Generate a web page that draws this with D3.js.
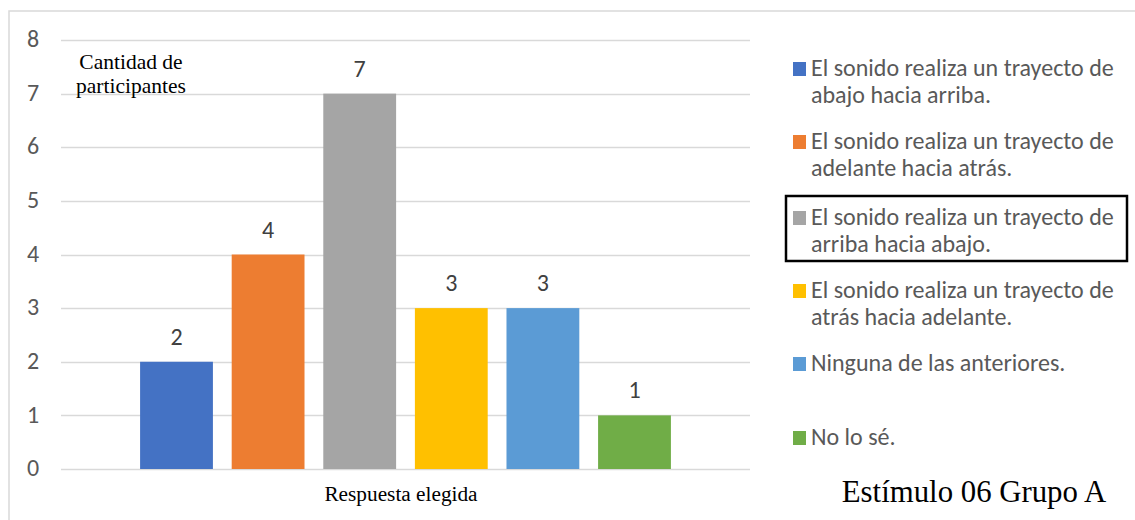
<!DOCTYPE html>
<html>
<head>
<meta charset="utf-8">
<script src="https://cdn.jsdelivr.net/npm/d3@7"></script>
<style>
  html, body { margin: 0; padding: 0; background: #fff; }
  svg { display: block; }
</style>
</head>
<body>
<svg id="chart" width="1135" height="520"></svg>
<script>
// Responses chosen by participants, stimulus 06, group A
const category = "Respuesta elegida";
const seriesNames = [
  "El sonido realiza un trayecto de abajo hacia arriba.",
  "El sonido realiza un trayecto de adelante hacia atrás.",
  "El sonido realiza un trayecto de arriba hacia abajo.",
  "El sonido realiza un trayecto de atrás hacia adelante.",
  "Ninguna de las anteriores.",
  "No lo sé."
];
const legendLines = [
  ["El sonido realiza un trayecto de", "abajo hacia arriba."],
  ["El sonido realiza un trayecto de", "adelante hacia atrás."],
  ["El sonido realiza un trayecto de", "arriba hacia abajo."],
  ["El sonido realiza un trayecto de", "atrás hacia adelante."],
  ["Ninguna de las anteriores."],
  ["No lo sé."]
];
const values = [2, 4, 7, 3, 3, 1];
const colors = ["#4472C4", "#ED7D31", "#A5A5A5", "#FFC000", "#5B9BD5", "#70AD47"];
const yTicks = [0, 1, 2, 3, 4, 5, 6, 7, 8];
const highlighted = 2; // legend entry drawn with a box around it

const svg = d3.select("#chart");
const sans = "Calibri, Carlito, 'Open Sans', sans-serif";
const serif = "'Liberation Serif', 'Times New Roman', serif";

// outer frame
svg.append("rect")
  .attr("x", 9).attr("y", 11).attr("width", 1140).attr("height", 520)
  .attr("fill", "none").attr("stroke", "#d9d9d9").attr("stroke-width", 1.5);

const plot = { left: 61, right: 750, top: 40, bottom: 469 };

const y = d3.scaleLinear().domain([0, 8]).range([plot.bottom, plot.top]);

const x0 = d3.scaleBand().domain([category]).range([plot.left, plot.right]).paddingOuter(0.149);
const x1 = d3.scaleBand().domain(seriesNames)
  .range([x0(category), x0(category) + x0.bandwidth()])
  .paddingInner(0.205).paddingOuter(0);

// gridlines
svg.append("g")
  .selectAll("line")
  .data(yTicks)
  .join("line")
  .attr("x1", plot.left).attr("x2", plot.right)
  .attr("y1", d => Math.round(y(d)) + 0.5).attr("y2", d => Math.round(y(d)) + 0.5)
  .attr("stroke", "#d9d9d9").attr("stroke-width", 1.5);

// y axis labels
const yAxis = d3.axisLeft(y).tickValues(yTicks).tickSize(0).tickPadding(0).tickFormat(d3.format("d"));
const gy = svg.append("g").attr("transform", "translate(38,0)").call(yAxis);
gy.select(".domain").remove();
gy.selectAll("text")
  .attr("font-family", sans).attr("font-size", 24).attr("fill", "#595959")
  .attr("text-anchor", "middle").attr("x", -5).attr("dy", "0.28em");

// bars
svg.append("g")
  .selectAll("rect")
  .data(values)
  .join("rect")
  .attr("x", (d, i) => x1(seriesNames[i]))
  .attr("width", x1.bandwidth())
  .attr("y", d => y(d))
  .attr("height", d => y(0) - y(d))
  .attr("fill", (d, i) => colors[i]);

// value labels
svg.append("g")
  .selectAll("text")
  .data(values)
  .join("text")
  .attr("x", (d, i) => x1(seriesNames[i]) + x1.bandwidth() / 2)
  .attr("y", d => y(d) - 17)
  .attr("text-anchor", "middle")
  .attr("font-family", sans).attr("font-size", 24).attr("fill", "#404040")
  .text(d => d);

// axis titles
const yTitle = svg.append("text")
  .attr("font-family", serif).attr("font-size", 21.5).attr("fill", "#000")
  .attr("text-anchor", "middle");
yTitle.append("tspan").attr("x", 131).attr("y", 69).text("Cantidad de");
yTitle.append("tspan").attr("x", 131).attr("y", 93).text("participantes");

svg.append("text")
  .attr("x", 401).attr("y", 501)
  .attr("text-anchor", "middle")
  .attr("font-family", serif).attr("font-size", 21.3).attr("fill", "#000")
  .text(category);

// legend
const legendY = [76, 149, 225, 298, 371, 445];
const lg = svg.append("g");
seriesNames.forEach((name, i) => {
  const g = lg.append("g").attr("transform", `translate(0,${legendY[i]})`);
  g.append("rect").attr("x", 793).attr("y", -14).attr("width", 13).attr("height", 14).attr("fill", colors[i]);
  const t = g.append("text")
    .attr("font-family", sans).attr("font-size", 24).attr("fill", "#595959");
  legendLines[i].forEach((line, j) => {
    t.append("tspan").attr("x", 811).attr("y", j * 27).text(line);
  });
});
lg.append("rect")
  .attr("x", 786).attr("y", 196).attr("width", 341).attr("height", 65)
  .attr("fill", "none").attr("stroke", "#000").attr("stroke-width", 2.5);

// chart caption
svg.append("text")
  .attr("x", 974).attr("y", 502)
  .attr("text-anchor", "middle")
  .attr("font-family", serif).attr("font-size", 30.8).attr("fill", "#000")
  .text("Estímulo 06 Grupo A");
</script>
</body>
</html>
